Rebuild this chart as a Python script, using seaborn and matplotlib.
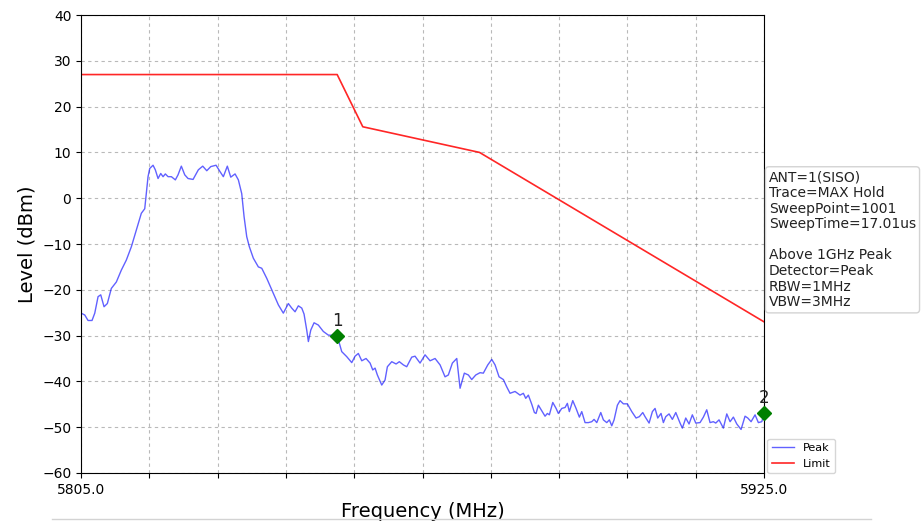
import numpy as np
import pandas as pd
import seaborn as sns
import matplotlib.pyplot as plt
from matplotlib.lines import Line2D

# ---------------------------------------
# Data
# ---------------------------------------
peak_freq = [
    5805.00, 5805.65, 5806.23, 5806.93, 5807.41, 5807.99, 5808.46, 5809.04, 5809.62, 5810.32,
    5811.20, 5812.08, 5812.96, 5813.84, 5814.72, 5815.59, 5816.19, 5816.47, 5816.77, 5817.07,
    5817.65, 5818.05, 5818.53, 5819.00, 5819.41, 5819.81, 5820.29, 5820.87, 5821.57, 5822.04,
    5822.62, 5823.22, 5823.80, 5824.68, 5825.61, 5826.38, 5827.09, 5827.79, 5828.72, 5829.42,
    5830.00, 5830.70, 5831.30, 5832.06, 5832.64, 5833.23, 5833.64, 5834.11, 5834.57, 5835.27,
    5836.15, 5836.75, 5837.63, 5838.79, 5839.67, 5840.54, 5841.42, 5842.02, 5842.60, 5843.18,
    5843.78, 5844.18, 5844.65, 5844.94, 5845.36, 5845.94, 5846.69, 5847.57, 5848.45, 5850.00,
    5850.80, 5851.68, 5852.56, 5853.14, 5853.72, 5854.32, 5855.07, 5855.78, 5856.25, 5856.66,
    5857.06, 5857.83, 5858.41, 5858.82, 5859.59, 5860.35, 5860.92, 5861.63, 5862.22, 5863.10,
    5863.68, 5864.56, 5865.44, 5866.32, 5867.20, 5868.08, 5868.95, 5869.53, 5870.24, 5871.01,
    5871.59, 5872.34, 5873.05, 5873.64, 5874.35, 5875.10, 5875.68, 5876.46, 5877.16, 5877.74,
    5878.44, 5879.20, 5879.79, 5880.37, 5881.25, 5882.13, 5882.71, 5883.13, 5883.59, 5884.19,
    5884.65, 5884.94, 5885.35, 5885.94, 5886.52, 5886.93, 5887.28, 5887.88, 5888.46, 5888.86,
    5889.46, 5890.04, 5890.44, 5890.79, 5891.39, 5891.97, 5892.55, 5892.97, 5893.55, 5894.13,
    5894.73, 5895.13, 5895.61, 5896.31, 5896.77, 5897.36, 5897.82, 5898.24, 5898.65, 5899.23,
    5899.70, 5900.28, 5900.98, 5901.76, 5902.51, 5903.09, 5903.69, 5904.09, 5904.80, 5905.38,
    5905.85, 5906.32, 5906.90, 5907.31, 5907.73, 5908.31, 5908.89, 5909.49, 5910.24, 5910.65,
    5911.24, 5911.82, 5912.40, 5913.00, 5913.75, 5914.34, 5914.93, 5915.51, 5916.09, 5916.51,
    5917.09, 5917.85, 5918.45, 5919.03, 5919.61, 5920.21, 5920.96, 5921.66, 5922.14, 5922.72,
    5923.42, 5924.00, 5924.60, 5925.00,
]
peak_level = [
    -25.1, -25.5, -26.7, -26.7, -25.1, -21.5, -21.1, -23.7, -23.0, -19.7,
    -18.3, -15.7, -13.5, -10.6, -6.9, -3.3, -2.3, 1.0, 4.7, 6.5,
    7.2, 6.2, 4.3, 5.4, 4.7, 5.3, 4.7, 4.7, 4.0, 5.1,
    7.0, 5.1, 4.3, 4.1, 6.2, 7.0, 6.0, 6.9, 7.2, 5.8,
    4.7, 7.0, 4.6, 5.3, 4.0, 1.0, -4.0, -8.4, -10.6, -13.1,
    -15.0, -15.3, -17.5, -20.8, -23.3, -25.1, -23.0, -24.0, -24.8, -23.5,
    -24.0, -25.3, -28.8, -31.3, -28.8, -27.2, -27.7, -29.1, -29.9, -30.0,
    -33.5, -34.6, -35.9, -34.5, -33.9, -35.5, -35.0, -36.0, -37.5, -37.1,
    -38.6, -40.8, -39.7, -36.8, -35.7, -36.2, -35.7, -36.4, -36.8, -34.7,
    -34.5, -36.0, -34.2, -35.5, -35.0, -36.4, -39.0, -38.6, -36.0, -35.0,
    -41.5, -38.2, -38.6, -39.6, -38.6, -38.1, -38.2, -36.4, -35.2, -36.4,
    -39.0, -39.6, -41.2, -42.6, -42.2, -43.0, -42.6, -43.7, -43.0, -45.0,
    -46.8, -47.0, -45.2, -46.4, -47.6, -47.0, -47.3, -44.6, -45.9, -47.0,
    -45.9, -45.7, -44.8, -46.6, -44.2, -45.9, -47.8, -46.6, -49.0, -49.0,
    -48.8, -48.3, -49.0, -46.8, -48.4, -49.0, -48.4, -49.7, -48.4, -45.2,
    -44.2, -44.9, -44.9, -46.6, -48.0, -47.7, -46.8, -47.7, -49.1, -46.6,
    -45.9, -48.0, -47.0, -49.0, -47.7, -47.1, -48.3, -46.8, -49.1, -50.2,
    -48.0, -49.3, -47.3, -49.1, -49.0, -47.8, -46.2, -49.0, -48.8, -49.1,
    -48.4, -50.2, -47.1, -48.8, -47.8, -49.3, -50.5, -47.6, -48.0, -48.8,
    -47.3, -49.0, -48.8, -47.0,
]

limit_freq = [5805.0, 5850.0, 5854.5, 5875.0, 5925.0]
limit_level = [27.0, 27.0, 15.6, 10.0, -27.0]

marker_freq = [5850.0, 5925.0]
marker_level = [-30.0, -47.0]
marker_names = ["1", "2"]

info_text = ("ANT=1(SISO)\nTrace=MAX Hold\nSweepPoint=1001\nSweepTime=17.01us\n\n"
             "Above 1GHz Peak\nDetector=Peak\nRBW=1MHz\nVBW=3MHz")

peak_df = pd.DataFrame({"Frequency": peak_freq, "Level": peak_level})
limit_df = pd.DataFrame({"Frequency": limit_freq, "Level": limit_level})

# ---------------------------------------
# Plot
# ---------------------------------------
fig = plt.figure(figsize=(9.22, 5.27), dpi=100)
ax = fig.add_axes([0.0879, 0.1025, 0.7408, 0.869])

sns.lineplot(data=peak_df, x="Frequency", y="Level", ax=ax, color="blue",
             alpha=0.62, linewidth=1.0, label="Peak", sort=False)
sns.lineplot(data=limit_df, x="Frequency", y="Level", ax=ax, color="red",
             alpha=0.85, linewidth=1.2, label="Limit", sort=False)

ax.plot(marker_freq, marker_level, linestyle="none", marker="D",
        color="green", markersize=7, clip_on=False, zorder=5)
for f, l, name in zip(marker_freq, marker_level, marker_names):
    ax.text(f, l + 1.3, name, ha="center", va="bottom", fontsize=12, color="#222222")

ax.set_xlim(5805, 5925)
ax.set_ylim(-60, 40)
xt = np.arange(5805, 5925.1, 12)
ax.set_xticks(xt)
ax.set_xticklabels([f"{v:.1f}" if i in (0, len(xt) - 1) else "" for i, v in enumerate(xt)])
ax.set_yticks(np.arange(-60, 41, 10))
ax.tick_params(labelsize=10)
ax.grid(True, linestyle=(0, (3, 3)), color="gray", alpha=0.55, linewidth=0.8)
ax.set_xlabel("Frequency (MHz)", fontsize=14)
ax.set_ylabel("Level (dBm)", fontsize=14)

ax.legend(loc="lower left", bbox_to_anchor=(1.005, 0.0), fontsize=8,
          frameon=True, borderaxespad=0.0)

fig.text(0.834, 0.677, info_text, ha="left", va="top", fontsize=10,
         color="#222222", linespacing=1.15,
         bbox=dict(boxstyle="round,pad=0.25", fc="white", ec="lightgray"))

fig.add_artist(Line2D([0.056, 0.945], [0.015, 0.015], color="lightgray",
                      linewidth=1.0, transform=fig.transFigure))

plt.savefig("out.png", dpi=100)
